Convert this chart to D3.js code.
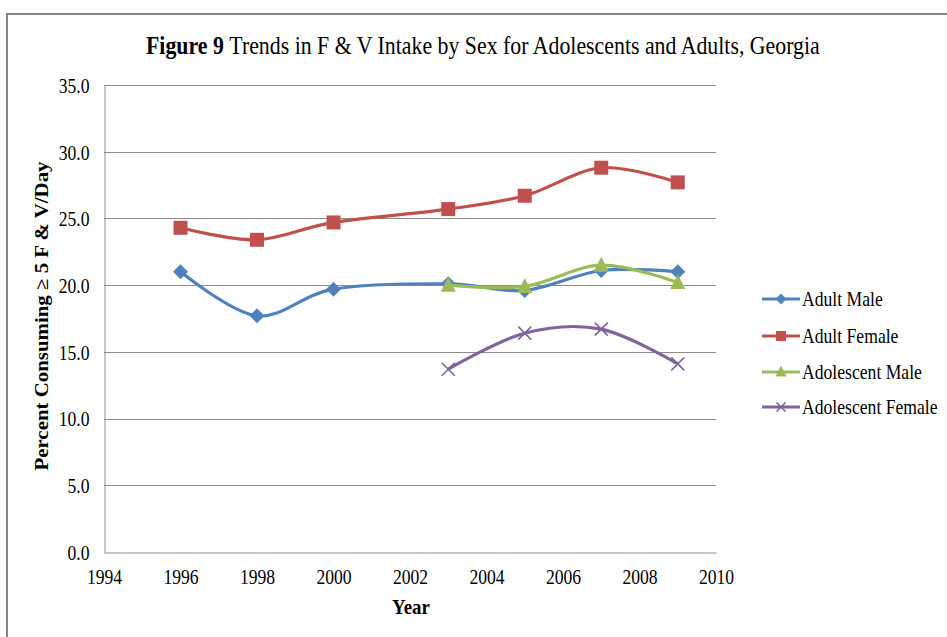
<!DOCTYPE html>
<html>
<head>
<meta charset="utf-8">
<script src="https://cdn.jsdelivr.net/npm/d3@7"></script>
<style>
  html, body { margin: 0; padding: 0; background: #fff; }
  svg { display: block; }
  svg text { font-family: "Liberation Serif", "Times New Roman", serif; fill: #000; }
</style>
</head>
<body>
<svg id="chart" width="947" height="637"></svg>
<script>
// Survey years and series values (percent consuming >= 5 servings of F & V per day)
const adultYears = [1996, 1998, 2000, 2003, 2005, 2007, 2009];
const adolYears = [2003, 2005, 2007, 2009];
const adultMale = [21.0, 17.7, 19.7, 20.1, 19.6, 21.1, 21.0];
const adultFemale = [24.3, 23.4, 24.7, 25.7, 26.7, 28.8, 27.7];
const adolescentMale = [20.0, 19.9, 21.5, 20.2];
const adolescentFemale = [13.7, 16.4, 16.7, 14.1];
const seriesNames = ["Adult Male", "Adult Female", "Adolescent Male", "Adolescent Female"];
const xTicks = [1994, 1996, 1998, 2000, 2002, 2004, 2006, 2008, 2010];
const yTicks = [0, 5, 10, 15, 20, 25, 30, 35];

const series = [
  { name: seriesNames[0], years: adultYears, values: adultMale, color: "#4F81BD", marker: "diamond" },
  { name: seriesNames[1], years: adultYears, values: adultFemale, color: "#C0504D", marker: "square" },
  { name: seriesNames[2], years: adolYears, values: adolescentMale, color: "#9BBB59", marker: "triangle" },
  { name: seriesNames[3], years: adolYears, values: adolescentFemale, color: "#8064A2", marker: "cross" }
];

const FONT = '"Liberation Serif", "Times New Roman", serif';
const svg = d3.select("#chart");
const plot = { left: 104, right: 716, top: 85, bottom: 552 };

const x = d3.scaleLinear().domain([1994, 2010]).range([plot.left, plot.right]);
const y = d3.scaleLinear().domain([0, 35]).range([plot.bottom, plot.top]);

// Horizontally squeeze a text about its anchor point (tall, condensed Times look)
function squeeze(sel, factor) {
  sel.each(function () {
    const t = d3.select(this);
    const tx = +t.attr("x") || 0;
    const ty = +t.attr("y") || 0;
    const base = t.attr("transform") || "";
    t.attr("x", 0).attr("y", 0)
      .attr("transform", `${base} translate(${tx},${ty}) scale(${factor},1)`);
  });
}

// Outer frame (top and left edges)
svg.append("path")
  .attr("d", "M7,637 V14 H947")
  .attr("fill", "none")
  .attr("stroke", "#858585")
  .attr("stroke-width", 2);

// Title: bold figure number followed by the regular caption, centred as one line
const TITLE_SQUEEZE = 0.84;
const titleBold = svg.append("text")
  .style("font-size", "26px").attr("font-weight", "bold")
  .text("Figure 9");
const titleRest = svg.append("text")
  .style("font-size", "26px")
  .text("Trends in F & V Intake by Sex for Adolescents and Adults, Georgia");
const wBold = titleBold.node().getComputedTextLength() * TITLE_SQUEEZE;
const wRest = titleRest.node().getComputedTextLength() * TITLE_SQUEEZE;
const gap = 26 * 0.25 * TITLE_SQUEEZE;
const titleStart = 483 - (wBold + gap + wRest) / 2;
titleBold.attr("x", titleStart).attr("y", 54).call(squeeze, TITLE_SQUEEZE);
titleRest.attr("x", titleStart + wBold + gap).attr("y", 54).call(squeeze, TITLE_SQUEEZE);

// Horizontal gridlines
svg.append("g")
  .selectAll("line")
  .data(yTicks.filter(d => d > 0))
  .join("line")
  .attr("x1", plot.left).attr("x2", plot.right)
  .attr("y1", d => Math.round(y(d)) + 0.5).attr("y2", d => Math.round(y(d)) + 0.5)
  .attr("stroke", "#8c8c8c").attr("stroke-width", 1);

// Y axis
const yAxis = svg.append("g")
  .attr("transform", `translate(${plot.left + 0.5},0)`)
  .call(d3.axisLeft(y).tickValues(yTicks).tickFormat(d3.format(".1f")).tickSize(0).tickPadding(15));
yAxis.attr("font-family", FONT).attr("font-size", 21);
yAxis.select(".domain").attr("stroke", "#8c8c8c");
yAxis.selectAll("text").attr("dy", "0.35em").attr("fill", "#000").call(squeeze, 0.84);

// X axis
const xAxis = svg.append("g")
  .attr("transform", `translate(0,${plot.bottom + 0.5})`)
  .call(d3.axisBottom(x).tickValues(xTicks).tickFormat(d3.format("d")).tickSize(0).tickPadding(17));
xAxis.attr("font-family", FONT).attr("font-size", 21);
xAxis.select(".domain").attr("stroke", "#8c8c8c");
xAxis.selectAll("text").attr("dy", "0.71em").attr("fill", "#000").call(squeeze, 0.84);

// Axis titles
svg.append("text")
  .attr("x", 411).attr("y", 614)
  .attr("text-anchor", "middle")
  .attr("font-weight", "bold")
  .style("font-size", "21px")
  .text("Year")
  .call(squeeze, 0.9);

svg.append("text")
  .attr("transform", "translate(48,316) rotate(-90)")
  .attr("text-anchor", "middle")
  .attr("font-weight", "bold")
  .style("font-size", "18px")
  .text("Percent Consuming \u2265 5 F & V/Day")
  .call(squeeze, 1.16);

// Marker drawing helper
function drawMarker(g, type, color, size) {
  const s = size / 2;
  if (type === "diamond") {
    g.append("path").attr("d", `M0,${-s} L${s},0 L0,${s} L${-s},0 Z`).attr("fill", color);
  } else if (type === "square") {
    g.append("rect").attr("x", -s + 0.5).attr("y", -s + 0.5).attr("width", size - 1).attr("height", size - 1).attr("fill", color);
  } else if (type === "triangle") {
    g.append("path").attr("d", `M0,${-s - 1} L${s},${s - 1} L${-s},${s - 1} Z`).attr("fill", color);
  } else if (type === "cross") {
    const c = s - 1;
    g.append("path").attr("d", `M${-c},${-c} L${c},${c} M${-c},${c} L${c},${-c}`)
      .attr("stroke", color).attr("stroke-width", 1.6).attr("fill", "none");
  }
}

const line = d3.line()
  .x(d => x(d[0]))
  .y(d => y(d[1]))
  .curve(d3.curveCatmullRom.alpha(0));

series.forEach(s => {
  const pts = s.years.map((yr, i) => [yr, s.values[i]]);
  svg.append("path")
    .datum(pts)
    .attr("d", line)
    .attr("fill", "none")
    .attr("stroke", s.color)
    .attr("stroke-width", 3.2)
    .attr("stroke-linejoin", "round");
  pts.forEach(p => {
    const g = svg.append("g").attr("transform", `translate(${x(p[0])},${y(p[1])})`);
    drawMarker(g, s.marker, s.color, 15);
  });
});

// Legend
const legend = svg.append("g");
const legendY = [299, 336, 372, 407];
series.forEach((s, i) => {
  const ly = legendY[i];
  legend.append("line")
    .attr("x1", 762).attr("x2", 800)
    .attr("y1", ly).attr("y2", ly)
    .attr("stroke", s.color).attr("stroke-width", 3.2);
  const g = legend.append("g").attr("transform", `translate(781,${ly})`);
  drawMarker(g, s.marker, s.color, 11);
  legend.append("text")
    .attr("x", 802).attr("y", ly)
    .attr("dy", "0.35em")
    .style("font-size", "21px")
    .text(s.name)
    .call(squeeze, 0.84);
});
</script>
</body>
</html>
